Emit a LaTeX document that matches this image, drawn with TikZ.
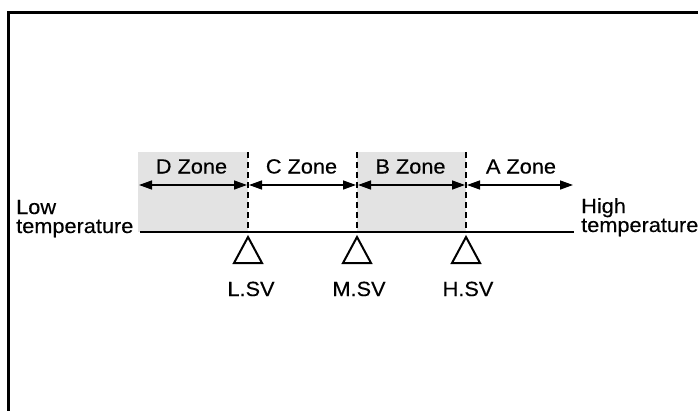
\documentclass[tikz,border=0pt]{standalone}
\usepackage{fontspec}
\setmainfont[FakeStretch=1.06,FakeBold=0.3]{Liberation Sans}
\usetikzlibrary{arrows.meta}
\begin{document}
\begin{tikzpicture}[x=1pt,y=-1pt,
  txt/.style={font=\fontsize{20.5}{22}\selectfont, inner sep=0pt},
  zonearrow/.style={{Triangle[length=13pt,width=9pt]}-{Triangle[length=13pt,width=9pt]}, line width=1.4pt},
  zonefill/.style={fill=black!11, draw=none},
  divider/.style={dashed, dash pattern=on 6pt off 4pt, line width=2pt},
  axis/.style={line width=2.2pt},
  marker/.style={line width=2pt, line join=miter},
  frame/.style={line width=3pt}
]
\useasboundingbox (0,0) rectangle (698,410);
\fill[white] (0,0) rectangle (698,410);
% frame (top and left edges)
\draw[frame] (8,412) -- (8,12) -- (700,12);
% shaded zones
\fill[zonefill] (138,152) rectangle (248,232);
\fill[zonefill] (357,152) rectangle (466,232);
% named points
\coordinate (d0) at (139,185);
\coordinate (lsv) at (248,185);
\coordinate (msv) at (357,185);
\coordinate (hsv) at (466,185);
\coordinate (a1) at (573,185);
% dashed dividers
\foreach \c/\x in {l/248,m/357,h/466}{
  \coordinate (\c top) at (\x,152);
  \coordinate (\c bot) at (\x,232);
  \draw[divider] (\c top) -- (\c bot);
}
% axis
\coordinate (axL) at (140,232);
\coordinate (axR) at (574,232);
\draw[axis] (axL) -- (axR);
% zone arrows
\draw[zonearrow] (d0) -- ([xshift=-1]lsv);
\draw[zonearrow] ([xshift=1]lsv) -- ([xshift=-1]msv);
\draw[zonearrow] ([xshift=1]msv) -- ([xshift=-1]hsv);
\draw[zonearrow] ([xshift=1]hsv) -- (a1);
% zone labels
\node[txt, anchor=base] (dz) at (191.5,173.5) {D Zone};
\node[txt, anchor=base] (cz) at (301.5,173.5) {C Zone};
\node[txt, anchor=base] (bz) at (410.5,173.5) {B Zone};
\node[txt, anchor=base] (az) at (521,173.5) {A Zone};
% end labels
\node[txt, anchor=base west] (low1) at (16,214) {Low};
\node[txt, anchor=base west] (low2) at (16,233) {temperature};
\node[txt, anchor=base west] (high1) at (581,213) {High};
\node[txt, anchor=base west] (high2) at (581,232) {temperature};
% triangles
\foreach \c/\x in {l/248,m/357,h/466}{
  \draw[marker] (\x,237) -- (\x+14,263) -- (\x-14,263) -- cycle;
}
% SV labels
\node[txt, anchor=base] (ltxt) at (251,296) {L.SV};
\node[txt, anchor=base] (mtxt) at (359,296) {M.SV};
\node[txt, anchor=base] (htxt) at (468,296) {H.SV};
\end{tikzpicture}
\end{document}
